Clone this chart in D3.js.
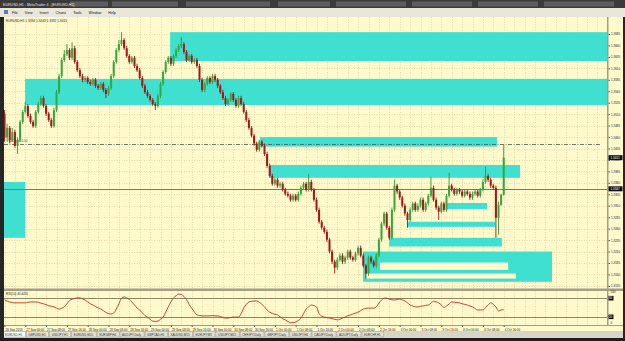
<!DOCTYPE html>
<html><head><meta charset="utf-8">
<script src="https://cdn.jsdelivr.net/npm/d3@7"></script>
<style>html,body{margin:0;padding:0;background:#262626;overflow:hidden}svg{display:block}</style>
</head><body><svg id="c" width="625" height="341"></svg>
<script>
// ---------- DATA (EURUSD, H1) ----------
const open = [1.3511,1.3459,1.3480,1.3454,1.3471,1.3441,1.3454,1.3493,1.3515,1.3528,
1.3506,1.3493,1.3484,1.3515,1.3532,1.3545,1.3528,1.3511,1.3497,1.3484,
1.3519,1.3558,1.3593,1.3628,1.3641,1.3650,1.3633,1.3654,1.3624,1.3606,
1.3593,1.3585,1.3589,1.3580,1.3576,1.3585,1.3572,1.3567,1.3576,1.3563,
1.3554,1.3567,1.3593,1.3624,1.3650,1.3663,1.3672,1.3654,1.3637,1.3624,
1.3633,1.3615,1.3606,1.3589,1.3572,1.3558,1.3550,1.3541,1.3532,1.3528,
1.3550,1.3576,1.3602,1.3624,1.3633,1.3620,1.3637,1.3650,1.3659,1.3663,
1.3646,1.3628,1.3637,1.3624,1.3628,1.3615,1.3585,1.3563,1.3576,1.3589,
1.3580,1.3593,1.3585,1.3572,1.3558,1.3545,1.3532,1.3541,1.3554,1.3541,
1.3528,1.3545,1.3532,1.3515,1.3497,1.3480,1.3463,1.3446,1.3432,1.3450,
1.3441,1.3423,1.3397,1.3375,1.3358,1.3367,1.3354,1.3358,1.3345,1.3336,
1.3332,1.3323,1.3332,1.3323,1.3336,1.3349,1.3358,1.3345,1.3362,1.3345,
1.3323,1.3301,1.3275,1.3262,1.3253,1.3236,1.3210,1.3188,1.3175,1.3192,
1.3201,1.3188,1.3197,1.3210,1.3197,1.3192,1.3206,1.3218,1.3201,1.3179,
1.3162,1.3197,1.3188,1.3179,1.3201,1.3236,1.3271,1.3293,1.3262,1.3240,
1.3301,1.3354,1.3341,1.3328,1.3310,1.3293,1.3279,1.3301,1.3315,1.3301,
1.3310,1.3323,1.3301,1.3315,1.3332,1.3349,1.3323,1.3306,1.3297,1.3315,
1.3301,1.3332,1.3354,1.3345,1.3336,1.3345,1.3341,1.3332,1.3341,1.3336,
1.3328,1.3336,1.3341,1.3332,1.3345,1.3362,1.3375,1.3367,1.3354,1.3349,
1.3284,1.3312,1.3334];
const high = [1.3519,1.3489,1.3484,1.3480,1.3476,1.3459,1.3497,1.3519,1.3537,1.3532,
1.3511,1.3497,1.3519,1.3537,1.3550,1.3550,1.3532,1.3515,1.3502,1.3524,
1.3563,1.3598,1.3633,1.3650,1.3663,1.3654,1.3667,1.3659,1.3628,1.3611,
1.3598,1.3593,1.3593,1.3585,1.3589,1.3589,1.3576,1.3580,1.3580,1.3567,
1.3572,1.3598,1.3628,1.3654,1.3672,1.3689,1.3676,1.3659,1.3641,1.3637,
1.3637,1.3620,1.3611,1.3593,1.3576,1.3563,1.3554,1.3545,1.3537,1.3554,
1.3580,1.3606,1.3628,1.3637,1.3637,1.3641,1.3654,1.3663,1.3678,1.3667,
1.3650,1.3641,1.3641,1.3633,1.3633,1.3620,1.3589,1.3580,1.3593,1.3593,
1.3598,1.3598,1.3589,1.3576,1.3563,1.3550,1.3545,1.3558,1.3558,1.3545,
1.3550,1.3550,1.3537,1.3519,1.3502,1.3484,1.3467,1.3450,1.3454,1.3454,
1.3446,1.3428,1.3402,1.3380,1.3371,1.3371,1.3362,1.3362,1.3349,1.3341,
1.3336,1.3336,1.3336,1.3341,1.3354,1.3362,1.3362,1.3380,1.3367,1.3349,
1.3328,1.3306,1.3279,1.3266,1.3258,1.3240,1.3214,1.3192,1.3197,1.3206,
1.3206,1.3201,1.3214,1.3214,1.3201,1.3210,1.3223,1.3223,1.3206,1.3183,
1.3201,1.3201,1.3192,1.3206,1.3240,1.3275,1.3297,1.3297,1.3266,1.3306,
1.3367,1.3358,1.3345,1.3332,1.3315,1.3297,1.3306,1.3319,1.3319,1.3315,
1.3328,1.3328,1.3319,1.3336,1.3373,1.3354,1.3328,1.3310,1.3319,1.3319,
1.3336,1.3382,1.3358,1.3349,1.3349,1.3349,1.3345,1.3345,1.3345,1.3341,
1.3341,1.3345,1.3345,1.3349,1.3367,1.3395,1.3380,1.3371,1.3358,1.3354,
1.3319,1.3336,1.3443];
const low = [1.3450,1.3450,1.3446,1.3450,1.3437,1.3423,1.3450,1.3489,1.3511,1.3502,
1.3489,1.3480,1.3480,1.3511,1.3528,1.3524,1.3506,1.3493,1.3480,1.3480,
1.3515,1.3554,1.3589,1.3624,1.3637,1.3628,1.3628,1.3620,1.3602,1.3589,
1.3580,1.3580,1.3576,1.3572,1.3572,1.3567,1.3563,1.3563,1.3558,1.3545,
1.3550,1.3563,1.3589,1.3620,1.3646,1.3659,1.3650,1.3633,1.3620,1.3620,
1.3611,1.3602,1.3585,1.3567,1.3554,1.3545,1.3537,1.3528,1.3519,1.3524,
1.3545,1.3572,1.3598,1.3620,1.3615,1.3615,1.3633,1.3646,1.3654,1.3641,
1.3624,1.3624,1.3620,1.3620,1.3611,1.3580,1.3558,1.3558,1.3572,1.3576,
1.3576,1.3580,1.3567,1.3554,1.3541,1.3528,1.3528,1.3537,1.3537,1.3524,
1.3524,1.3528,1.3511,1.3493,1.3476,1.3459,1.3441,1.3428,1.3428,1.3437,
1.3419,1.3393,1.3371,1.3354,1.3354,1.3349,1.3349,1.3341,1.3332,1.3328,
1.3319,1.3319,1.3319,1.3319,1.3332,1.3345,1.3341,1.3341,1.3341,1.3319,
1.3297,1.3271,1.3258,1.3249,1.3231,1.3206,1.3183,1.3162,1.3170,1.3188,
1.3183,1.3183,1.3192,1.3192,1.3188,1.3188,1.3201,1.3197,1.3175,1.3151,
1.3157,1.3183,1.3175,1.3175,1.3197,1.3231,1.3266,1.3258,1.3236,1.3236,
1.3297,1.3336,1.3323,1.3306,1.3288,1.3262,1.3275,1.3297,1.3297,1.3297,
1.3306,1.3297,1.3297,1.3310,1.3328,1.3319,1.3301,1.3279,1.3293,1.3297,
1.3297,1.3328,1.3341,1.3332,1.3332,1.3336,1.3328,1.3328,1.3332,1.3323,
1.3323,1.3332,1.3328,1.3328,1.3341,1.3358,1.3362,1.3349,1.3345,1.3240,
1.3247,1.3310,1.3332];
const close = [1.3459,1.3480,1.3454,1.3471,1.3441,1.3454,1.3493,1.3515,1.3528,1.3506,
1.3493,1.3484,1.3515,1.3532,1.3545,1.3528,1.3511,1.3497,1.3484,1.3519,
1.3558,1.3593,1.3628,1.3641,1.3650,1.3633,1.3654,1.3624,1.3606,1.3593,
1.3585,1.3589,1.3580,1.3576,1.3585,1.3572,1.3567,1.3576,1.3563,1.3554,
1.3567,1.3593,1.3624,1.3650,1.3663,1.3672,1.3654,1.3637,1.3624,1.3633,
1.3615,1.3606,1.3589,1.3572,1.3558,1.3550,1.3541,1.3532,1.3528,1.3550,
1.3576,1.3602,1.3624,1.3633,1.3620,1.3637,1.3650,1.3659,1.3663,1.3646,
1.3628,1.3637,1.3624,1.3628,1.3615,1.3585,1.3563,1.3576,1.3589,1.3580,
1.3593,1.3585,1.3572,1.3558,1.3545,1.3532,1.3541,1.3554,1.3541,1.3528,
1.3545,1.3532,1.3515,1.3497,1.3480,1.3463,1.3446,1.3432,1.3450,1.3441,
1.3423,1.3397,1.3375,1.3358,1.3367,1.3354,1.3358,1.3345,1.3336,1.3332,
1.3323,1.3332,1.3323,1.3336,1.3349,1.3358,1.3345,1.3362,1.3345,1.3323,
1.3301,1.3275,1.3262,1.3253,1.3236,1.3210,1.3188,1.3175,1.3192,1.3201,
1.3188,1.3197,1.3210,1.3197,1.3192,1.3206,1.3218,1.3201,1.3179,1.3162,
1.3197,1.3188,1.3179,1.3201,1.3236,1.3271,1.3293,1.3262,1.3240,1.3301,
1.3354,1.3341,1.3328,1.3310,1.3293,1.3279,1.3301,1.3315,1.3301,1.3310,
1.3323,1.3301,1.3315,1.3332,1.3349,1.3323,1.3306,1.3297,1.3315,1.3301,
1.3332,1.3354,1.3345,1.3336,1.3345,1.3341,1.3332,1.3341,1.3336,1.3328,
1.3336,1.3341,1.3332,1.3345,1.3362,1.3375,1.3367,1.3354,1.3349,1.3284,
1.3312,1.3334,1.3415];
// oscillator (lower window)
const osc = [74,71,68,66,65,65,65,65,65,67,68,68,68,67,64,62,59,56,54,52,
48,45,48,52,62,72,77,79,81,81,78,74,68,62,58,53,49,45,40,34,
30,29,32,45,62,80,84,81,76,68,58,48,42,33,24,19,12,6,5,6,
12,19,35,52,68,81,88,93,92,86,76,60,48,36,26,24,23,23,23,23,
24,23,23,21,18,16,16,18,19,19,19,30,48,60,68,70,71,71,67,60,
52,42,35,31,28,26,20,14,10,5,1,1,3,8,15,30,45,52,58,56,
52,30,22,19,17,16,14,12,10,12,16,19,23,26,29,32,35,40,45,47,
48,48,48,52,64,74,80,80,77,75,74,76,77,74,71,65,58,55,52,52,
54,55,57,58,64,70,68,65,58,50,55,61,68,67,66,65,62,60,58,55,
52,47,42,42,42,50,58,65,60,52,39,42,43.4455];
const oscLevels = [80, 20];
const oscAxis = [100, 0];
const priceTicks = [1.3685,1.3660,1.3635,1.3610,1.3585,1.3560,1.3535,1.3510,1.3485,1.3460,1.3435,1.3410,
1.3385,1.3360,1.3335,1.3310,1.3285,1.3260,1.3235,1.3210,1.3185,1.3160,1.3135];
const timeLabels = ["26 Sep 2013","27 Sep 00:00","27 Sep 08:00","27 Sep 16:00","28 Sep 00:00","28 Sep 08:00",
"28 Sep 16:00","29 Sep 00:00","29 Sep 08:00","29 Sep 16:00","30 Sep 00:00","30 Sep 08:00","30 Sep 16:00",
"1 Oct 00:00","1 Oct 08:00","1 Oct 16:00","2 Oct 00:00","2 Oct 08:00","2 Oct 16:00","3 Oct 00:00",
"3 Oct 08:00","3 Oct 16:00","4 Oct 00:00","4 Oct 08:00","4 Oct 16:00"];
// rectangles (bar index from/to, price top/bottom)
const zoneFrom = [63.7, 7.9, 98.3, 102.1, -0.2, 170.2, 154.8, 147.9, 137.9];
const zoneTo   = [240, 240, 189.4, 198.3, 7.9, 185.6, 188.7, 191.3, 210.6];
const zoneHi   = [1.3689, 1.3587, 1.3460, 1.3399, 1.3362, 1.3316, 1.3275, 1.3240, 1.3210];
const zoneLo   = [1.3626, 1.3530, 1.3439, 1.3371, 1.3240, 1.3303, 1.3264, 1.3221, 1.3144];
const gapFrom = [144.4, 139.0];
const gapTo   = [193.7, 196.7];
const gapHi   = [1.3186, 1.3162];
const gapLo   = [1.3170, 1.3151];
const hLinePrice = [1.3347];
const orderLinePrice = [1.3445];
const tabs = ["EURUSD,H1","GBPUSD,H1","USDJPY,H1","EURUSD,M15","EURGBP,H4","AUDJPY,Daily","GBPCAD,H1",
"XAUUSD,M15","EURJPY,M5","USDJPY,M15","CHFJPY,Daily","GBPJPY,Daily","USDJPY,H4","CADJPY,Daily","AUDJPY,Daily","EURCHF,H1"];
const menu = ["File","View","Insert","Charts","Tools","Window","Help"];

// ---------- DRAW ----------
const svg = d3.select('#c');
const FONT = '"Liberation Sans", Arial, sans-serif';
const BG = '#fff9cc', GRID = '#e4dbac', ZONE = '#40e0d0';
const n = close.length;
const x = d3.scaleLinear().domain([0, n-1]).range([4.5, 503.7]);
const y = d3.scaleLinear().domain([priceTicks[0], priceTicks[priceTicks.length-1]]).range([34, 285.9]);
const yo = d3.scaleLinear().domain(oscAxis.slice().reverse()).range([323, 292]);

// window chrome
svg.append('rect').attr('width',625).attr('height',341).attr('fill','#262626');
svg.append('rect').attr('x',0).attr('y',0).attr('width',625).attr('height',8).attr('fill','#3a3a3a');
[[70,38],[112,66],[186,84],[278,52],[336,70],[412,60],[478,60],[544,70]].forEach(([a,w])=>
  svg.append('rect').attr('x',a).attr('y',1.5).attr('width',w).attr('height',5).attr('fill','#5e5e5e'));
svg.append('text').attr('x',3).attr('y',6).attr('font-family',FONT).attr('font-size',3.6).attr('fill','#e8e8e8')
  .text('EURUSD,H1 - MetaTrader 4 - [EURUSD,H1]');
svg.append('rect').attr('x',0).attr('y',8).attr('width',625).attr('height',9).attr('fill','#e9e6da');
svg.append('rect').attr('x',4).attr('y',10).attr('width',4).attr('height',4).attr('fill','#5a7fc0');
let mx = 12;
menu.forEach(m=>{
  const t = svg.append('text').attr('x',mx).attr('y',14.3).attr('font-family',FONT).attr('font-size',3.6).attr('fill','#111').text(m);
  mx += t.node().getComputedTextLength() + 7;
});

// chart background
svg.append('rect').attr('x',4).attr('y',17).attr('width',619).attr('height',314).attr('fill',BG);

svg.append('defs').append('clipPath').attr('id','main').append('rect').attr('x',4).attr('y',17).attr('width',603).attr('height',272);
svg.select('defs').append('clipPath').attr('id','ind').append('rect').attr('x',4).attr('y',291.5).attr('width',603).attr('height',33.5);

const gMain = svg.append('g').attr('clip-path','url(#main)');
const gInd = svg.append('g').attr('clip-path','url(#ind)');

// grid
const gridIdx = d3.range(0, 236, 4);
gMain.selectAll('.hg').data(priceTicks).join('line').attr('x1',4).attr('x2',607)
  .attr('y1',d=>Math.round(y(d))+0.5).attr('y2',d=>Math.round(y(d))+0.5)
  .attr('stroke',GRID).attr('stroke-width',1).attr('stroke-dasharray','1,1.5');
gMain.selectAll('.vg').data(gridIdx).join('line').attr('y1',17).attr('y2',289)
  .attr('x1',d=>Math.round(x(d))+0.5).attr('x2',d=>Math.round(x(d))+0.5)
  .attr('stroke',GRID).attr('stroke-width',1).attr('stroke-dasharray','1,1.5');
gInd.selectAll('.vg').data(gridIdx).join('line').attr('y1',291).attr('y2',325)
  .attr('x1',d=>Math.round(x(d))+0.5).attr('x2',d=>Math.round(x(d))+0.5)
  .attr('stroke',GRID).attr('stroke-width',1).attr('stroke-dasharray','1,1.5');

// zones
gMain.selectAll('.zone').data(zoneFrom).join('rect')
  .attr('x',(d)=>x(d)).attr('width',(d,i)=>x(zoneTo[i])-x(d))
  .attr('y',(d,i)=>y(zoneHi[i])).attr('height',(d,i)=>y(zoneLo[i])-y(zoneHi[i]))
  .attr('fill',ZONE);
gMain.selectAll('.gap').data(gapFrom).join('rect')
  .attr('x',(d)=>x(d)).attr('width',(d,i)=>x(gapTo[i])-x(d))
  .attr('y',(d,i)=>y(gapHi[i])).attr('height',(d,i)=>y(gapLo[i])-y(gapHi[i]))
  .attr('fill',BG);

// horizontal lines
gMain.selectAll('.hl').data(hLinePrice).join('line').attr('x1',4).attr('x2',607)
  .attr('y1',d=>Math.round(y(d))+0.5).attr('y2',d=>Math.round(y(d))+0.5)
  .attr('stroke','#7d7a55').attr('stroke-width',1);
gMain.selectAll('.ol').data(orderLinePrice).join('line').attr('x1',4).attr('x2',600)
  .attr('y1',d=>Math.round(y(d))+0.5).attr('y2',d=>Math.round(y(d))+0.5)
  .attr('stroke','#4a5a50').attr('stroke-width',0.8).attr('stroke-dasharray','4,1.5,1,1.5');
gMain.selectAll('.olt').data(orderLinePrice).join('text').attr('x',7).attr('y',d=>y(d)-1.5)
  .attr('font-family',FONT).attr('font-size',3).attr('fill','#333').text('#4823 sell 0.10');

// candles
const idx = d3.range(n);
const up = i => close[i] >= open[i];
const gC = gMain.append('g');
gC.selectAll('line').data(idx).join('line')
  .attr('x1',i=>x(i)).attr('x2',i=>x(i)).attr('y1',i=>y(high[i])).attr('y2',i=>y(low[i]))
  .attr('stroke',i=>up(i)?'#2f9a3a':'#9a1818').attr('stroke-width',0.9);
gC.selectAll('rect').data(idx).join('rect')
  .attr('x',i=>x(i)-1).attr('width',2)
  .attr('y',i=>y(Math.max(open[i],close[i])))
  .attr('height',i=>Math.max(0.8, Math.abs(y(open[i])-y(close[i]))))
  .attr('fill',i=>up(i)?'#34a840':'#a01818');

// chart header
svg.append('text').attr('x',6).attr('y',21.5).attr('font-family',FONT).attr('font-size',3.2).attr('fill','#222')
  .text(`EURUSD,H1  ${open[n-1].toFixed(4)} ${high[n-1].toFixed(4)} ${low[n-1].toFixed(4)} ${close[n-1].toFixed(4)}`);

// indicator
gInd.selectAll('.lev').data(oscLevels).join('line').attr('x1',4).attr('x2',607)
  .attr('y1',d=>Math.round(yo(d))+0.5).attr('y2',d=>Math.round(yo(d))+0.5)
  .attr('stroke','#8a876a').attr('stroke-width',1);
gInd.append('path').datum(idx).attr('fill','none').attr('stroke','#c0302a').attr('stroke-width',0.9)
  .attr('d', d3.line().x(i=>x(i)).y(i=>yo(osc[i])).curve(d3.curveMonotoneX));
svg.append('text').attr('x',6).attr('y',294.5).attr('font-family',FONT).attr('font-size',3).attr('fill','#222')
  .text(`RSI(10) ${osc[n-1].toFixed(4)}`);

// separators
svg.append('rect').attr('x',4).attr('y',288.5).attr('width',619).attr('height',2.5).attr('fill','#a29f86');
svg.append('line').attr('x1',4).attr('x2',623).attr('y1',325.5).attr('y2',325.5).attr('stroke','#a29f86');
svg.append('rect').attr('x',607).attr('y',17).attr('width',1.5).attr('height',308).attr('fill','#a29f86');

// price axis
const ax = d3.axisRight(y).tickValues(priceTicks).tickSize(1.5).tickFormat(d3.format('.4f'));
const gAx = svg.append('g').attr('transform','translate(608.5,0)').call(ax);
gAx.select('.domain').remove();
gAx.selectAll('text').attr('font-family',FONT).attr('font-size',3).attr('fill','#222').attr('x',2.5);
gAx.selectAll('line').attr('stroke','#555');

// price boxes
const boxes = [hLinePrice[0], close[n-1]];
boxes.forEach(p=>{
  svg.append('rect').attr('x',608.5).attr('y',y(p)-2.5).attr('width',14).attr('height',5).attr('fill','#111');
  svg.append('text').attr('x',610.5).attr('y',y(p)+1.1).attr('font-family',FONT).attr('font-size',3).attr('fill','#fff').text(p.toFixed(4));
});
// oscillator axis
oscAxis.forEach(v=>svg.append('text').attr('x',610.5).attr('y',yo(v)+1.2).attr('font-family',FONT).attr('font-size',3).attr('fill','#222').text(v));
oscLevels.forEach(v=>{
  svg.append('rect').attr('x',608.5).attr('y',yo(v)-2.3).attr('width',5).attr('height',4.6).attr('fill','#111');
  svg.append('text').attr('x',609).attr('y',yo(v)+1.1).attr('font-family',FONT).attr('font-size',2.8).attr('fill','#fff').text(v);
});

// time axis
const tIdx = timeLabels.map((d,i)=>i*8);
const tx = d3.axisBottom(x).tickValues(tIdx).tickSize(1.5).tickFormat((d,i)=>timeLabels[i]);
const gT = svg.append('g').attr('transform','translate(0,325.5)').call(tx);
gT.select('.domain').remove();
gT.selectAll('text').attr('font-family',FONT).attr('font-size',3).attr('fill','#222')
  .attr('text-anchor','start').attr('dx',0.5).attr('y',3.2).attr('dy','0.71em');
gT.selectAll('line').attr('stroke','#555');

// tabs
svg.append('rect').attr('x',0).attr('y',331).attr('width',625).attr('height',7).attr('fill','#d8d5c8');
let tX = 3;
tabs.forEach((t,i)=>{
  const g = svg.append('g');
  const txt = g.append('text').attr('x',tX+2).attr('y',336).attr('font-family',FONT).attr('font-size',3).attr('fill','#333').text(t);
  const w = txt.node().getComputedTextLength()+5;
  g.insert('rect','text').attr('x',tX).attr('y',331.5).attr('width',w).attr('height',5.5)
    .attr('fill',i===0?'#ffffff':'#e4e1d5').attr('stroke','#9a978a').attr('stroke-width',0.5);
  tX += w + 1;
});
// edges
svg.append('rect').attr('x',0).attr('y',17).attr('width',4).attr('height',321).attr('fill','#262626');
svg.append('rect').attr('x',623).attr('y',17).attr('width',2).attr('height',321).attr('fill','#262626');
svg.append('rect').attr('x',0).attr('y',338).attr('width',625).attr('height',3).attr('fill','#1e1e1e');
</script></body></html>
